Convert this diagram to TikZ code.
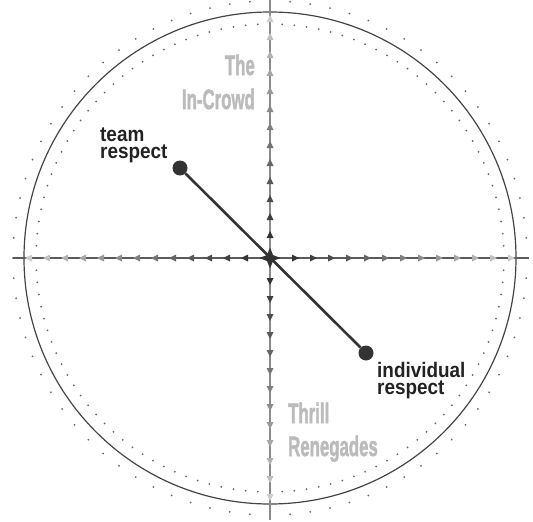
\documentclass[tikz,border=0pt]{standalone}
\usepackage{fontspec}
\setmainfont{Liberation Sans}
\newfontfamily\heavyfont[FakeBold=2]{Liberation Sans Bold}
\definecolor{labeldark}{HTML}{222222}
\definecolor{labelgray}{HTML}{BBBBBB}
\definecolor{dotgray}{HTML}{666666}
\definecolor{circgray}{HTML}{444444}
\definecolor{haxis}{HTML}{5A5A5A}
\definecolor{vaxis}{HTML}{8A8A8A}
\definecolor{dark}{HTML}{333333}
\newcommand{\sq}[1]{\scalebox{0.9}[1]{#1}}
\newcommand{\nq}[1]{\scalebox{0.6}[1]{#1}}
\begin{document}
\begin{tikzpicture}[x=1pt,y=-1pt,
  lbl/.style={inner sep=0pt, text=labeldark, align=left, font=\fontsize{21}{17.5}\selectfont\bfseries},
  glbl/.style={inner sep=0pt, text=labelgray, font=\fontsize{28}{30}\selectfont\heavyfont},
  circ/.style={draw=circgray, line width=1.2pt},
  hax/.style={draw=haxis, line width=1.4pt},
  vax/.style={draw=vaxis, line width=1.4pt},
  enddot/.style={circle, fill=dark, minimum size=15pt, inner sep=0pt},
  diag/.style={draw=dark, line width=2.6pt}
]
\useasboundingbox (0,0) rectangle (533,522);
\coordinate (c) at (270,258);
\coordinate (hl) at (13,258);
\coordinate (hr) at (529,258);
\coordinate (vt) at (270,0);
\coordinate (vb) at (270,520);
% dotted circles
\foreach \a in {0,3,...,357}
  \fill[dotgray] (c) ++(\a:234pt) circle[radius=1pt];
\foreach \a in {0,4.5,...,356}
  \fill[dotgray] (c) ++(\a:257pt) circle[radius=1pt];
% main circle
\draw[circ] (c) circle[radius=246pt];
% axes
\draw[vax] (vt) -- (vb);
\draw[hax] (hl) -- (hr);
% arrowheads
\foreach \i in {0,...,12}{
  \pgfmathtruncatemacro{\pc}{80-5*\i}
  \pgfmathsetmacro{\xr}{295+18*\i}
  \pgfmathsetmacro{\xl}{245-18*\i}
  \pgfmathsetmacro{\yu}{235-18*\i}
  \pgfmathsetmacro{\yd}{281+18*\i}
  \fill[black!\pc, shift={(\xr,258)}] (4,0) -- (-3,3.5) -- (-3,-3.5) -- cycle;
  \fill[black!\pc, shift={(\xl,258)}] (-4,0) -- (3,3.5) -- (3,-3.5) -- cycle;
  \fill[black!\pc, shift={(270,\yu)}] (0,-4) -- (3.5,3) -- (-3.5,3) -- cycle;
  \fill[black!\pc, shift={(270,\yd)}] (0,4) -- (3.5,-3) -- (-3.5,-3) -- cycle;
}
% diagonal
\node[enddot] (t) at (180,168) {};
\node[enddot] (ir) at (366,353) {};
\draw[diag] (t) -- (ir);
% center diamond
\fill[dark] (c) ++(-10.5,0) -- ++(7.5,-3) -- ++(3,-7.5) -- ++(3,7.5) -- ++(7.5,3)
  -- ++(-7.5,3) -- ++(-3,7.5) -- ++(-3,-7.5) -- cycle;
% labels
\node[lbl, anchor=north west] (teamresp) at (100,127.5) {\sq{team}\\\sq{respect}};
\node[lbl, anchor=north west] (indivresp) at (377,361.7) {\sq{individual}\\\sq{respect}};
\node[glbl, anchor=base east] (the) at (255,75) {\nq{The}};
\node[glbl, anchor=base east] (incrowd) at (255,109) {\nq{In-Crowd}};
\node[glbl, anchor=base west] (thrill) at (288,423) {\nq{Thrill}};
\node[glbl, anchor=base west] (reneg) at (288,456) {\nq{Renegades}};
\end{tikzpicture}
\end{document}
